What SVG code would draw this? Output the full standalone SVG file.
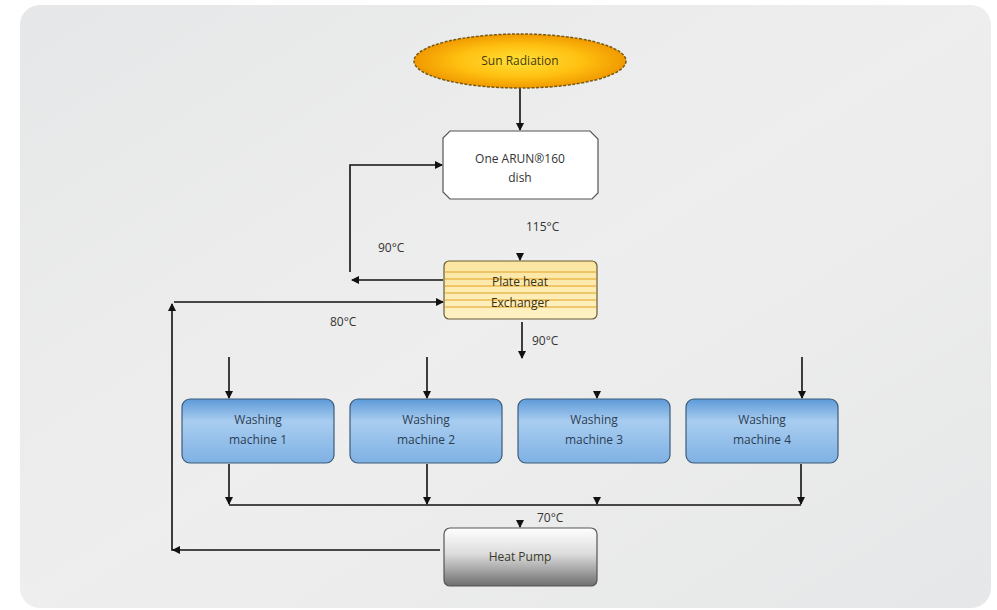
<svg xmlns="http://www.w3.org/2000/svg" width="997" height="610" viewBox="0 0 997 610">
<style>
.t{font-family:"Open Sans","Liberation Sans",sans-serif;font-size:12px;text-anchor:middle;}
.w{fill:#2d3e55;}
.c{stroke:#111;stroke-width:1.6;fill:none;}
.lbl{font-family:"Open Sans","Liberation Sans",sans-serif;font-size:12px;fill:#333;}
</style>
<defs>
<linearGradient id="bg" x1="0" y1="0" x2="1" y2="1">
<stop offset="0" stop-color="#e6e7e8"/><stop offset="0.5" stop-color="#eeeeee"/><stop offset="1" stop-color="#e6e7e8"/>
</linearGradient>
<radialGradient id="sun" cx="0.5" cy="0.5" r="0.5">
<stop offset="0" stop-color="#ffe23a"/><stop offset="0.6" stop-color="#ffbf10"/><stop offset="1" stop-color="#f09a00"/>
</radialGradient>
<linearGradient id="blue" x1="0" y1="0" x2="0" y2="1">
<stop offset="0" stop-color="#5d9ad8"/><stop offset="0.35" stop-color="#a9cdf0"/><stop offset="1" stop-color="#7eb1e4"/>
</linearGradient>
<linearGradient id="gray" x1="0" y1="0" x2="0" y2="1">
<stop offset="0" stop-color="#ffffff"/><stop offset="0.45" stop-color="#dcdcdc"/><stop offset="1" stop-color="#6e6e6e"/>
</linearGradient>
<linearGradient id="yel" x1="0" y1="0" x2="0" y2="1">
<stop offset="0" stop-color="#fbe6a0"/><stop offset="1" stop-color="#fff1c4"/>
</linearGradient>
<marker id="ah" markerWidth="8" markerHeight="8" refX="7" refY="4" orient="auto" markerUnits="userSpaceOnUse">
<path d="M0,0 L8,4 L0,8 Z" fill="#111"/>
</marker>
</defs>
<rect x="0" y="0" width="997" height="610" fill="#ffffff"/>
<rect x="20" y="5" width="971" height="603" rx="20" fill="url(#bg)"/>

<g id="connectors">
<line class="c" x1="520" y1="87" x2="520" y2="130" marker-end="url(#ah)"/>
<polyline class="c" points="350,272 350,165 442,165" marker-end="url(#ah)"/>
<line class="c" x1="443" y1="280" x2="352" y2="280" marker-end="url(#ah)"/>
<line class="c" x1="520" y1="254" x2="520" y2="260" marker-end="url(#ah)"/>
<line class="c" x1="436" y1="302" x2="443" y2="302" marker-end="url(#ah)"/>
<line class="c" x1="437" y1="302" x2="174" y2="302"/>
<polyline class="c" points="440,550 172,550 172,304" marker-end="url(#ah)"/>
<line class="c" x1="180" y1="550" x2="173" y2="550" marker-end="url(#ah)"/>
<line class="c" x1="522" y1="322" x2="522" y2="358" marker-end="url(#ah)"/>
<line class="c" x1="229" y1="357" x2="229" y2="398" marker-end="url(#ah)"/>
<line class="c" x1="427" y1="357" x2="427" y2="398" marker-end="url(#ah)"/>
<line class="c" x1="597" y1="392" x2="597" y2="398" marker-end="url(#ah)"/>
<line class="c" x1="802" y1="357" x2="802" y2="398" marker-end="url(#ah)"/>
<line class="c" x1="229" y1="464" x2="229" y2="504" marker-end="url(#ah)"/>
<line class="c" x1="427" y1="464" x2="427" y2="504" marker-end="url(#ah)"/>
<line class="c" x1="597" y1="497" x2="597" y2="504" marker-end="url(#ah)"/>
<line class="c" x1="801" y1="464" x2="801" y2="504" marker-end="url(#ah)"/>
<line class="c" x1="229" y1="505" x2="801" y2="505"/>
<line class="c" x1="520" y1="520" x2="520" y2="527" marker-end="url(#ah)"/>
<text class="lbl" x="378" y="252">90°C</text>
<text class="lbl" x="526" y="231">115°C</text>
<text class="lbl" x="330" y="326">80°C</text>
<text class="lbl" x="532" y="345">90°C</text>
<text class="lbl" x="537" y="522">70°C</text>
</g>

<g id="sun-radiation">
<ellipse cx="520" cy="61" rx="106" ry="27" fill="url(#sun)" stroke="#7a5a10" stroke-width="1.5" stroke-dasharray="3,1.5"/>
<text class="t" x="520" y="65" fill="#4a3a08">Sun Radiation</text>
</g>

<g id="dish">
<path d="M450,131 H590 L598,139 V193 L592,199 H450 L443,192 V138 Z" fill="#ffffff" stroke="#555" stroke-width="1.2"/>
<text class="t" x="520" y="163" fill="#333" font-size="13">One ARUN®160</text>
<text class="t" x="520" y="182" fill="#333">dish</text>
</g>

<g id="plate-heat-exchanger">
<rect x="444" y="261" width="153" height="58" rx="5" fill="url(#yel)" stroke="#6b5a30" stroke-width="1.2"/>
<g stroke="#e3a020" stroke-width="1">
<line x1="445" y1="272" x2="596" y2="272"/>
<line x1="445" y1="279" x2="596" y2="279"/>
<line x1="445" y1="286" x2="596" y2="286"/>
<line x1="445" y1="293" x2="596" y2="293"/>
<line x1="445" y1="300" x2="596" y2="300"/>
<line x1="445" y1="307" x2="596" y2="307"/>
</g>
<text class="t" x="520" y="286" fill="#3a3010" font-size="13">Plate heat</text>
<text class="t" x="520" y="307" fill="#3a3010" font-size="13">Exchanger</text>
</g>

<g id="washing-machine-1">
<rect x="182" y="399" width="152" height="64" rx="8" fill="url(#blue)" stroke="#3d5a78" stroke-width="1.2"/>
<text class="t w" x="258" y="424" font-size="13">Washing</text>
<text class="t w" x="258" y="444" font-size="11">machine 1</text>
</g>
<g id="washing-machine-2">
<rect x="350" y="399" width="152" height="64" rx="8" fill="url(#blue)" stroke="#3d5a78" stroke-width="1.2"/>
<text class="t w" x="426" y="424" font-size="13">Washing</text>
<text class="t w" x="426" y="444" font-size="11">machine 2</text>
</g>
<g id="washing-machine-3">
<rect x="518" y="399" width="152" height="64" rx="8" fill="url(#blue)" stroke="#3d5a78" stroke-width="1.2"/>
<text class="t w" x="594" y="424" font-size="13">Washing</text>
<text class="t w" x="594" y="444" font-size="11">machine 3</text>
</g>
<g id="washing-machine-4">
<rect x="686" y="399" width="152" height="64" rx="8" fill="url(#blue)" stroke="#3d5a78" stroke-width="1.2"/>
<text class="t w" x="762" y="424" font-size="13">Washing</text>
<text class="t w" x="762" y="444" font-size="11">machine 4</text>
</g>

<g id="heat-pump">
<rect x="444" y="528" width="153" height="58" rx="6" fill="url(#gray)" stroke="#555" stroke-width="1.2"/>
<text class="t" x="520" y="561" fill="#3a3a2a" font-size="13">Heat Pump</text>
</g>
</svg>
